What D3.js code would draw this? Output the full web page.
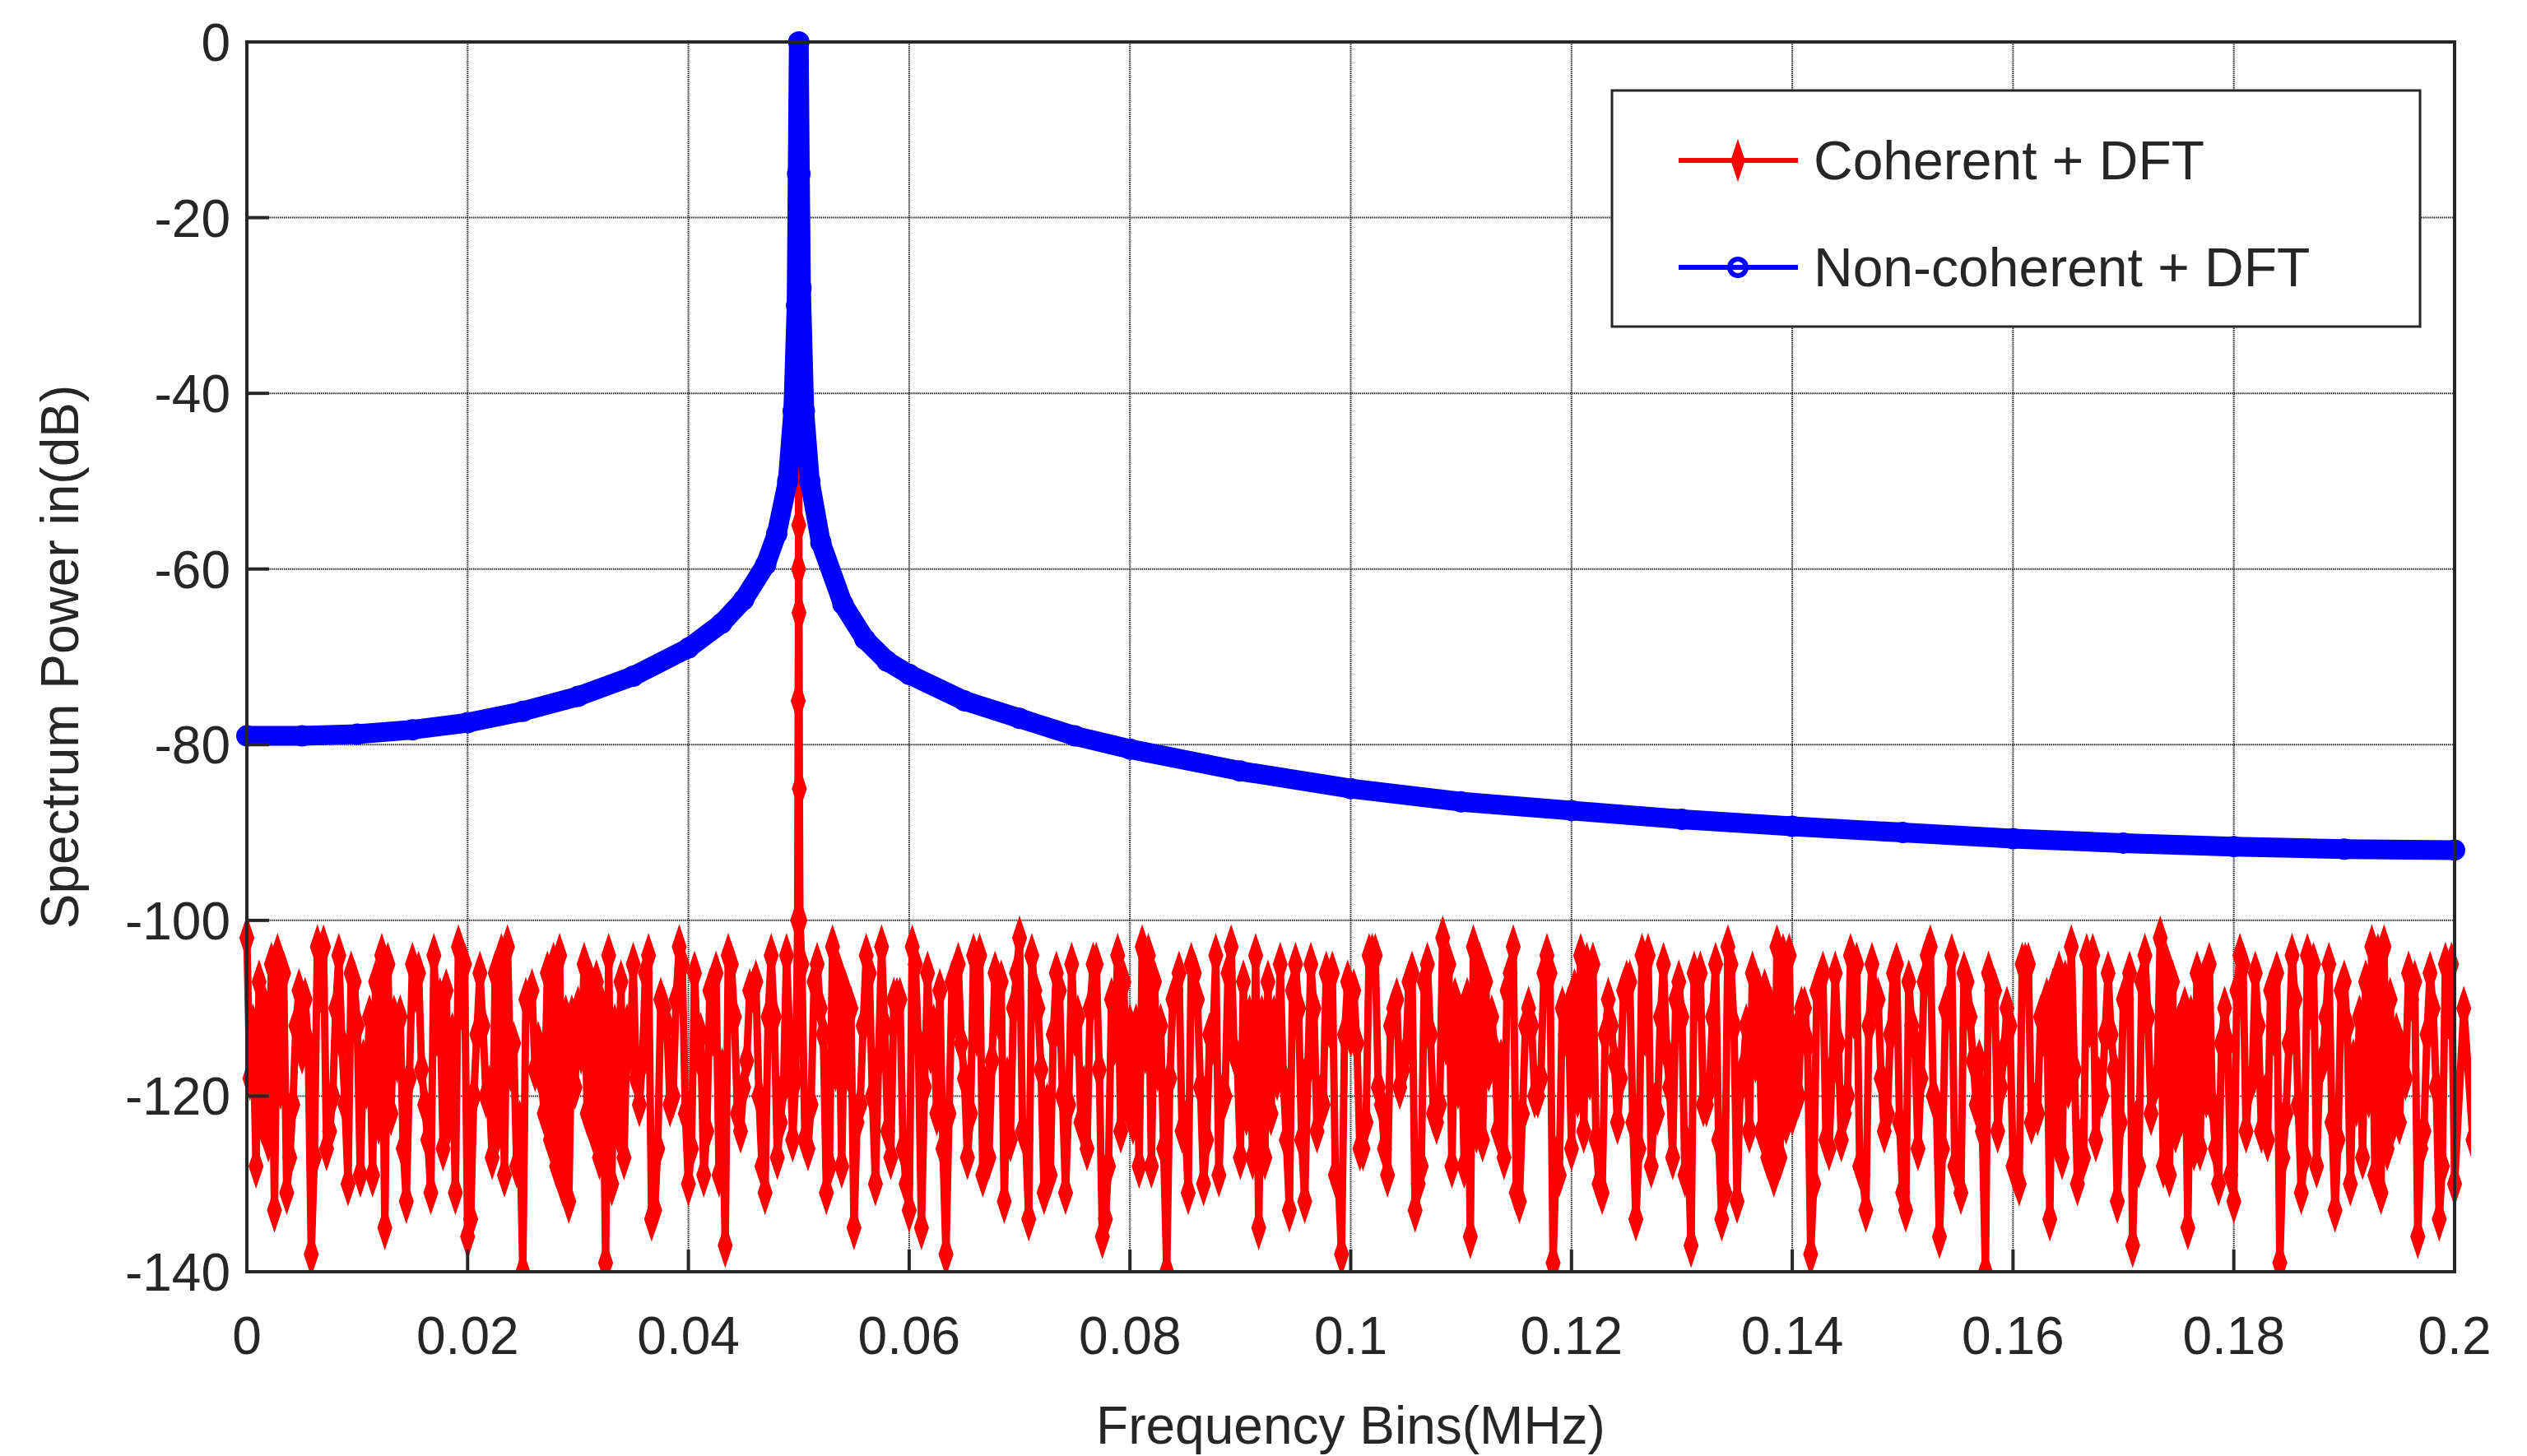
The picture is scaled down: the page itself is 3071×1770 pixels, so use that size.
<!DOCTYPE html>
<html><head><meta charset="utf-8">
<script src="https://cdn.jsdelivr.net/npm/d3@7/dist/d3.min.js"></script>
<style>body{margin:0;background:#fff}text{font-family:"Liberation Sans",Arial,sans-serif;fill:#262626}</style>
</head><body><svg id="c" width="3071" height="1770"></svg>
<script>
const xTicks=[0,0.02,0.04,0.06,0.08,0.1,0.12,0.14,0.16,0.18,0.2];
const yTicks=[0,-20,-40,-60,-80,-100,-120,-140];
const blueFreq=[0,0.005,0.01,0.015,0.02,0.025,0.03,0.035,0.04,0.043,0.045,0.047,0.048,0.049,0.0495,0.0498,0.0499,0.05,0.0501,0.0502,0.0505,0.051,0.052,0.054,0.056,0.058,0.06,0.065,0.07,0.075,0.08,0.09,0.1,0.11,0.12,0.13,0.14,0.15,0.16,0.17,0.18,0.19,0.2];
const bluePower=[-79,-79,-78.8,-78.3,-77.5,-76.2,-74.5,-72.2,-69,-66.2,-63.5,-59.5,-56,-50,-42,-30,-15,0,-15,-28,-42,-50,-57,-64,-68,-70.5,-72,-75,-77,-79,-80.5,-83,-85,-86.5,-87.5,-88.5,-89.3,-90,-90.7,-91.2,-91.6,-91.9,-92];
const spikeFreq=[0.0499,0.04995,0.04998,0.05,0.05,0.05,0.05,0.05002,0.05005,0.0501];
const spikePower=[-100,-75,-60,-17,-2,-16,-55,-65,-85,-100];
const noiseStep=0.2/240;
const noiseA=[-102,-128,-110,-133,-106,-121,-115,-138,-108,-124,-104,-130,-112,-119,-107,-135,-111,-126,-105,-117,-131,-109,-123,-103,-136,-113,-120,-106,-129,-114,-140,-108,-118,-125,-104,-132,-110,-122,-107,-139,-112,-127,-105,-116,-134,-109,-121,-103,-130,-115,-124,-106,-137,-111,-119,-108,-128,-104,-123,-113,-110,-126,-105,-131,-117,-108,-135,-112,-120,-103,-127,-109,-133,-114,-106,-122,-138,-111,-118,-104,-129,-116,-107,-125,-102,-134,-110,-121,-106,-131,-113,-119,-105,-136,-109,-124,-112,-128,-104,-117,-140,-108,-123,-106,-130,-114,-120,-103,-127,-111,-135,-107,-118,-125,-105,-132,-110,-121,-106,-138,-113,-126,-104,-119,-129,-109,-115,-133,-107,-122,-102,-128,-111,-136,-105,-117,-124,-108,-131,-112,-120,-106,-139,-110,-126,-104,-118,-130,-109,-123,-107,-134,-113,-121,-105,-127,-111,-137,-106,-119,-125,-103,-132,-112,-116,-108,-129,-104,-122,-110,-138,-107,-126,-114,-120,-105,-133,-109,-124,-106,-131,-112,-118,-103,-136,-110,-127,-107,-121,-140,-108,-115,-128,-105,-123,-111,-134,-106,-119,-130,-104,-125,-113,-117,-109,-137,-107,-122,-102,-129,-112,-135,-106,-120,-126,-110,-132,-105,-118,-124,-108,-139,-114,-121,-104,-128,-111,-133,-107,-116,-127,-103,-131,-109,-123,-106,-136,-113,-119,-105,-130,-110,-125,-108,-134,-112,-106,-128];
const noiseB=[-118,-107,-125,-104,-131,-112,-109,-127,-103,-120,-114,-106,-129,-111,-123,-105,-116,-132,-108,-121,-104,-126,-113,-110,-134,-106,-119,-124,-103,-128,-109,-117,-122,-105,-130,-111,-115,-107,-127,-104,-124,-112,-118,-106,-133,-110,-120,-105,-126,-113,-108,-129,-104,-122,-116,-107,-131,-111,-119,-125,-105,-121,-110,-128,-106,-117,-123,-104,-130,-112,-109,-126,-103,-135,-115,-108,-122,-105,-127,-113,-119,-106,-132,-110,-124,-104,-117,-129,-108,-121,-111,-126,-105,-134,-114,-107,-123,-103,-128,-112,-118,-106,-131,-109,-125,-104,-120,-115,-107,-127,-111,-122,-105,-133,-110,-117,-124,-106,-129,-113,-108,-126,-104,-121,-112,-119,-107,-130,-105,-123,-114,-109,-128,-103,-125,-111,-116,-106,-132,-110,-120,-104,-127,-113,-108,-124,-105,-131,-112,-118,-107,-126,-104,-122,-115,-109,-129,-106,-121,-111,-134,-105,-119,-124,-108,-127,-103,-123,-113,-110,-130,-106,-117,-125,-104,-128,-112,-109,-122,-105,-133,-114,-107,-120,-126,-104,-131,-111,-116,-106,-124,-110,-129,-105,-121,-113,-108,-127,-103,-125,-112,-118,-106,-132,-109,-123,-104,-119,-128,-107,-122,-111,-126,-105,-130,-114,-108,-124,-106,-120,-113,-127,-104,-131,-110,-117,-105,-125,-112,-121,-107,-129,-103,-123,-115,-109,-126,-106,-134,-111,-118,-104,-128,-110,-122,-107];
const noiseC=[-112,-123,-105,-119,-127,-108,-114,-103,-126,-110,-121,-107,-116,-129,-104,-122,-111,-118,-106,-125,-113,-108,-131,-105,-120,-112,-127,-104,-117,-123,-109,-114,-106,-128,-111,-119,-105,-124,-110,-130,-107,-115,-121,-104,-126,-112,-109,-122,-106,-129,-113,-117,-105,-124,-108,-120,-111,-127,-104,-118,-125,-107,-113,-103,-128,-110,-121,-106,-116,-124,-109,-130,-105,-119,-112,-126,-107,-114,-122,-104,-127,-111,-118,-106,-125,-108,-131,-113,-120,-105,-123,-110,-117,-128,-104,-121,-112,-115,-107,-126,-109,-124,-105,-119,-113,-129,-106,-116,-122,-104,-127,-111,-118,-108,-125,-105,-120,-112,-130,-107,-114,-123,-104,-126,-110,-117,-106,-128,-113,-121,-105,-119,-109,-124,-107,-115,-127,-103,-122,-112,-118,-106,-129,-110,-120,-105,-125,-113,-116,-108,-123,-104,-128,-111,-119,-107,-126,-109,-121,-105,-131,-112,-117,-106,-124,-110,-127,-104,-120,-114,-108,-125,-106,-122,-111,-129,-105,-118,-113,-123,-107,-126,-104,-121,-110,-128,-106,-116,-124,-108,-119,-112,-130,-105,-122,-109,-125,-107,-117,-127,-104,-120,-113,-123,-106,-128,-111,-118,-105,-124,-110,-126,-107,-121,-114,-129,-104,-119,-112,-125,-106,-122,-109,-127,-105,-116,-123,-108,-130,-111,-120,-104,-126,-113,-118,-107,-124,-110,-128,-105,-121,-112,-117];
const legendLabels=["Coherent + DFT","Non-coherent + DFT"];

const svg=d3.select("#c");
const L=300,R=2983,T=51,B=1546;
const x=d3.scaleLinear().domain([0,0.2]).range([L,R]);
const y=d3.scaleLinear().domain([-140,0]).range([B,T]);
const g=svg.append("g");
g.selectAll(".gx").data(xTicks).join("line").attr("x1",d=>x(d)).attr("x2",d=>x(d)).attr("y1",T).attr("y2",B).attr("stroke","#262626").attr("stroke-width",2).attr("stroke-dasharray","1.5,1");
g.selectAll(".gy").data(yTicks).join("line").attr("y1",d=>y(d)).attr("y2",d=>y(d)).attr("x1",L).attr("x2",R).attr("stroke","#262626").attr("stroke-width",2).attr("stroke-dasharray","1.5,1");
svg.append("clipPath").attr("id","cp").append("rect").attr("x",L-20).attr("y",T-20).attr("width",R-L+40).attr("height",B-T+20);
const plot=svg.append("g").attr("clip-path","url(#cp)");
// red noise: three interleaved sets of bins
const red=[];
noiseA.forEach((v,i)=>{
  if(i===60){spikeFreq.forEach((f,k)=>red.push([f,spikePower[k]]));}
  else red.push([i*noiseStep,v]);
  if(i<240){red.push([(i+1/3)*noiseStep,noiseB[i]]);red.push([(i+2/3)*noiseStep,noiseC[i]]);}
});
const line=d3.line().x(d=>x(d[0])).y(d=>y(d[1]));
plot.append("path").datum(red).attr("d",line).attr("fill","none").attr("stroke","#ff0000").attr("stroke-width",9);
const dia=d3.symbol().type(d3.symbolDiamond).size(300);
plot.selectAll(".rd").data(red).join("path").attr("d",dia).attr("transform",d=>`translate(${x(d[0])},${y(d[1])}) scale(0.75,1.3)`).attr("fill","#ff0000").attr("stroke","#ff0000").attr("stroke-width",5);
const blue=blueFreq.map((f,i)=>[f,bluePower[i]]);
plot.append("path").datum(blue).attr("d",line).attr("fill","none").attr("stroke","#0000ff").attr("stroke-width",24).attr("stroke-linejoin","round").attr("stroke-linecap","round");
plot.selectAll(".bc").data(blue).join("circle").attr("cx",d=>x(d[0])).attr("cy",d=>y(d[1])).attr("r",10).attr("fill","none").attr("stroke","#0000ff").attr("stroke-width",6);
svg.append("rect").attr("x",L).attr("y",T).attr("width",R-L).attr("height",B-T).attr("fill","none").attr("stroke","#262626").attr("stroke-width",4);
svg.selectAll(".tx").data(xTicks).join("line").attr("x1",d=>x(d)).attr("x2",d=>x(d)).attr("y1",B).attr("y2",B-27).attr("stroke","#262626").attr("stroke-width",4);
svg.selectAll(".ty").data(yTicks).join("line").attr("y1",d=>y(d)).attr("y2",d=>y(d)).attr("x1",L).attr("x2",L+27).attr("stroke","#262626").attr("stroke-width",4);
svg.selectAll(".xl").data(xTicks).join("text").attr("x",d=>x(d)).attr("y",B+100).attr("text-anchor","middle").attr("font-size",64).text(d=>String(d));
svg.selectAll(".yl").data(yTicks).join("text").attr("x",L-20).attr("y",d=>y(d)+23).attr("text-anchor","end").attr("font-size",64).text(d=>String(d));
svg.append("text").attr("x",(L+R)/2).attr("y",1755).attr("text-anchor","middle").attr("font-size",64).text("Frequency Bins(MHz)");
svg.append("text").attr("transform",`translate(95,${(T+B)/2}) rotate(-90)`).attr("text-anchor","middle").attr("font-size",64).text("Spectrum Power in(dB)");
const lg=svg.append("g");
lg.append("rect").attr("x",1959).attr("y",110).attr("width",982).attr("height",287).attr("fill","#fff").attr("stroke","#262626").attr("stroke-width",3);
legendLabels.forEach((t,i)=>{
  const cy=195+i*130, col=i?"#0000ff":"#ff0000";
  lg.append("line").attr("x1",2040).attr("x2",2185).attr("y1",cy).attr("y2",cy).attr("stroke",col).attr("stroke-width",6);
  if(i) lg.append("circle").attr("cx",2112).attr("cy",cy).attr("r",10).attr("fill","none").attr("stroke",col).attr("stroke-width",6);
  else lg.append("path").attr("d",dia).attr("transform",`translate(2112,${cy}) scale(0.75,1.3)`).attr("fill",col).attr("stroke",col).attr("stroke-width",4);
  lg.append("text").attr("x",2204).attr("y",cy+23).attr("font-size",66).text(t);
});
</script></body></html>
